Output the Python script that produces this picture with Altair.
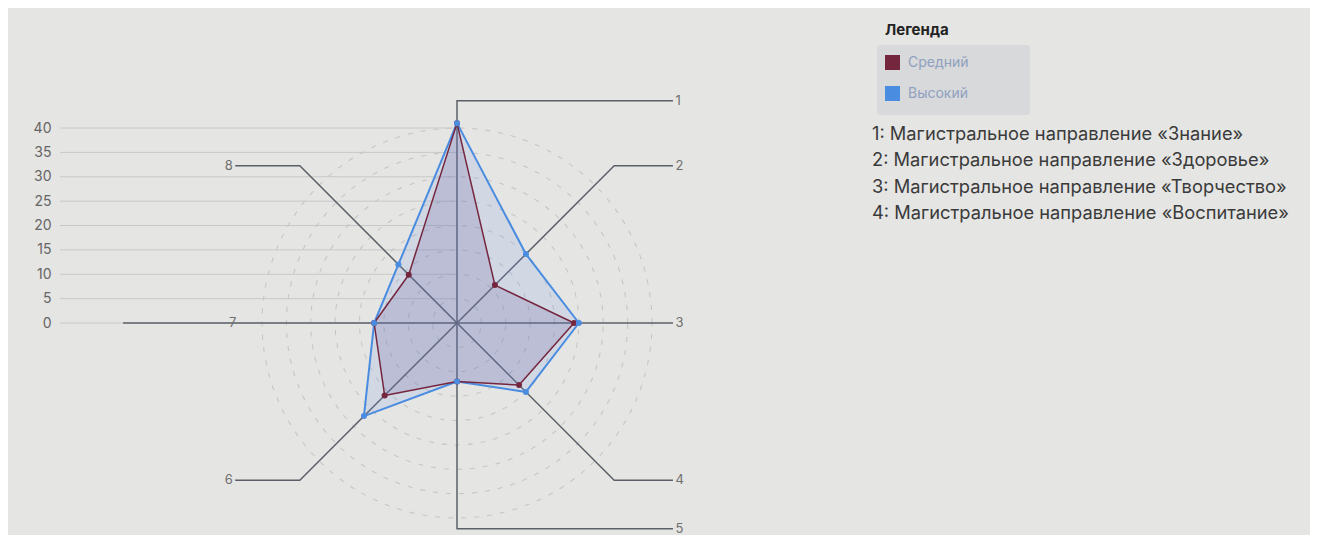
import altair as alt
import numpy as np
import pandas as pd

# ---------------- data ----------------
axis_ids = [1, 2, 3, 4, 5, 6, 7, 8]
medium_values = [41, 11, 24, 18, 12, 21, 17, 14]
high_values = [41, 20, 25, 20, 12, 27, 17, 17]
series_names = ["Средний", "Высокий"]
series_colors = ["#75263f", "#4a8ce0"]
y_tick_values = [0, 5, 10, 15, 20, 25, 30, 35, 40]
ring_values = [5, 10, 15, 20, 25, 30, 35, 40]
legend_title = "Легенда"
legend_lines = [
    "1: Магистральное направление «Знание»",
    "2: Магистральное направление «Здоровье»",
    "3: Магистральное направление «Творчество»",
    "4: Магистральное направление «Воспитание»",
]

# ---------------- layout ----------------
FONT = "Inter"
PX = 4.875            # pixels per unit
W, H = 1250, 527
PAD_L = 52
CX, CY = 397, 315     # center of radar in plot-area pixels
X_MIN = -CX / PX
X_MAX = X_MIN + W / PX
Y_MAX = CY / PX
Y_MIN = Y_MAX - H / PX

xs = alt.Scale(domain=[X_MIN, X_MAX], nice=False, zero=False)
ys = alt.Scale(domain=[Y_MIN, Y_MAX], nice=False, zero=False)
y_axis = alt.Axis(values=y_tick_values, domain=False, ticks=False, grid=False,
                  labelPadding=9, labelFontSize=14, labelColor="#666666",
                  labelFont=FONT, title=None)


def make_legend():
    return alt.Legend(
        title=None, orient="none", legendX=825, legendY=47,
        symbolType="square", symbolSize=225, symbolStrokeWidth=0,
        symbolOpacity=1, labelFontSize=14, labelColor="#8fa0c0",
        labelFont=FONT, labelOffset=8, rowPadding=16, padding=0,
    )


def ang(k):
    return np.deg2rad(90 - 45 * (k - 1))


# polygons
rows = []
for name, vals in zip(series_names, [medium_values, high_values]):
    ids = axis_ids + [axis_ids[0]]
    vv = vals + [vals[0]]
    for i, (k, v) in enumerate(zip(ids, vv)):
        a = ang(k)
        rows.append(dict(series=name, axis=k, value=v, order=i,
                         x=v * np.cos(a), y=v * np.sin(a)))
poly = pd.DataFrame(rows)
pts = poly[poly["order"] < len(axis_ids)]

# spokes with bends
BEND = 45.6
END_R = 44.3
END_L = -45.5
spoke_rows, label_rows = [], []
for k in axis_ids:
    a = ang(k)
    c, s = round(np.cos(a), 6), round(np.sin(a), 6)
    if s == 0 and c > 0:
        path = [(0, 0), (END_R, 0)]
        label_rows.append(dict(lab=str(k), x=END_R + 0.5, y=0, side="R"))
    elif s == 0 and c < 0:
        path = [(0, 0), (-68.5, 0)]
        label_rows.append(dict(lab=str(k), x=-46.0, y=0, side="C"))
    elif c == 0:
        yb = BEND if s > 0 else -42.2
        path = [(0, 0), (0, yb), (END_R, yb)]
        label_rows.append(dict(lab=str(k), x=END_R + 0.5, y=yb, side="R"))
    else:
        bx, by = BEND * c, BEND * s
        ex = END_R if c > 0 else END_L
        path = [(0, 0), (bx, by), (ex, by)]
        if c > 0:
            label_rows.append(dict(lab=str(k), x=ex + 0.5, y=by, side="R"))
        else:
            label_rows.append(dict(lab=str(k), x=ex - 0.5, y=by, side="L"))
    for i, (px, py) in enumerate(path):
        spoke_rows.append(dict(axis=k, order=i, x=px, y=py))
spokes = pd.DataFrame(spoke_rows)
labels = pd.DataFrame(label_rows)

# dashed rings
t = np.linspace(0, 2 * np.pi, 145)
rings = pd.DataFrame([dict(r=r, i=i, x=r * np.cos(tt), y=r * np.sin(tt))
                      for r in ring_values for i, tt in enumerate(t)])

grid = pd.DataFrame({"v": y_tick_values})
grid["x0"] = X_MIN
grid["x1"] = 0.0

color_scale = alt.Scale(domain=series_names, range=series_colors)


def color_enc():
    return alt.Color("series:N", scale=color_scale, sort=series_names, legend=make_legend())


# ---------------- layers ----------------
ring_layer = alt.Chart(rings).mark_line(
    stroke="#c6c6c6", strokeWidth=1.1, strokeDash=[5, 8]
).encode(
    x=alt.X("x:Q", scale=xs, axis=None),
    y=alt.Y("y:Q", scale=ys, axis=y_axis),
    detail="r:N", order="i:Q",
)

grid_layer = alt.Chart(grid).mark_rule(stroke="#c8c8c8", strokeWidth=1).encode(
    x=alt.X("x0:Q", scale=xs, axis=None), x2="x1:Q",
    y=alt.Y("v:Q", scale=ys, axis=y_axis),
)

spoke_layer = alt.Chart(spokes).mark_line(stroke="#5b6068", strokeWidth=1.5).encode(
    x=alt.X("x:Q", scale=xs, axis=None),
    y=alt.Y("y:Q", scale=ys, axis=y_axis),
    detail="axis:N", order="order:Q",
)

lab_common = dict(fontSize=13, color="#6f6f6f", font=FONT, baseline="middle")
lab_r = alt.Chart(labels[labels.side == "R"]).mark_text(align="left", **lab_common).encode(
    x=alt.X("x:Q", scale=xs, axis=None), y=alt.Y("y:Q", scale=ys, axis=y_axis), text="lab:N")
lab_l = alt.Chart(labels[labels.side == "L"]).mark_text(align="right", **lab_common).encode(
    x=alt.X("x:Q", scale=xs, axis=None), y=alt.Y("y:Q", scale=ys, axis=y_axis), text="lab:N")
lab_c = alt.Chart(labels[labels.side == "C"]).mark_text(align="center", **lab_common).encode(
    x=alt.X("x:Q", scale=xs, axis=None), y=alt.Y("y:Q", scale=ys, axis=y_axis), text="lab:N")

high_poly = alt.Chart(poly[poly.series == series_names[1]]).mark_line(
    fill="#6f9cf0", fillOpacity=0.17, strokeWidth=2, strokeJoin="round"
).encode(
    x=alt.X("x:Q", scale=xs, axis=None),
    y=alt.Y("y:Q", scale=ys, axis=y_axis),
    color=color_enc(),
    order="order:Q",
)
med_poly = alt.Chart(poly[poly.series == series_names[0]]).mark_line(
    fill="#645a96", fillOpacity=0.2, strokeWidth=1.5, strokeJoin="round"
).encode(
    x=alt.X("x:Q", scale=xs, axis=None),
    y=alt.Y("y:Q", scale=ys, axis=y_axis),
    color=color_enc(),
    order="order:Q",
)

legend_box = alt.Chart(pd.DataFrame({"a": [0]})).mark_rect(
    fill="#d6d7d8", opacity=0.85, cornerRadius=3
).encode(x=alt.value(817), x2=alt.value(970), y=alt.value(37), y2=alt.value(107))

point_layer = alt.Chart(pts).mark_point(filled=True, size=36, opacity=1).encode(
    x=alt.X("x:Q", scale=xs, axis=None),
    y=alt.Y("y:Q", scale=ys, axis=y_axis),
    color=color_enc(),
)

title_layer = alt.Chart(pd.DataFrame({"t": [legend_title]})).mark_text(
    align="left", baseline="middle", fontSize=15, fontWeight="bold",
    color="#222222", font=FONT
).encode(x=alt.value(825), y=alt.value(22), text="t:N")

line_layers = []
for i, line in enumerate(legend_lines):
    line_layers.append(
        alt.Chart(pd.DataFrame({"t": [line]})).mark_text(
            align="left", baseline="middle", fontSize=18.3, color="#3a3a3a", font=FONT
        ).encode(x=alt.value(812), y=alt.value(127 + 26.4 * i), text="t:N")
    )

chart = alt.layer(
    legend_box, ring_layer, grid_layer, spoke_layer, lab_r, lab_l, lab_c,
    high_poly, med_poly, point_layer, title_layer, *line_layers
).properties(
    width=W, height=H,
    autosize=alt.AutoSizeParams(type="none"),
    padding={"left": PAD_L, "top": 0, "right": 0, "bottom": 0},
    background="#e5e5e3",
).configure_view(stroke=None)

chart.save("out.html", embed_options={"renderer": "svg", "actions": False})
